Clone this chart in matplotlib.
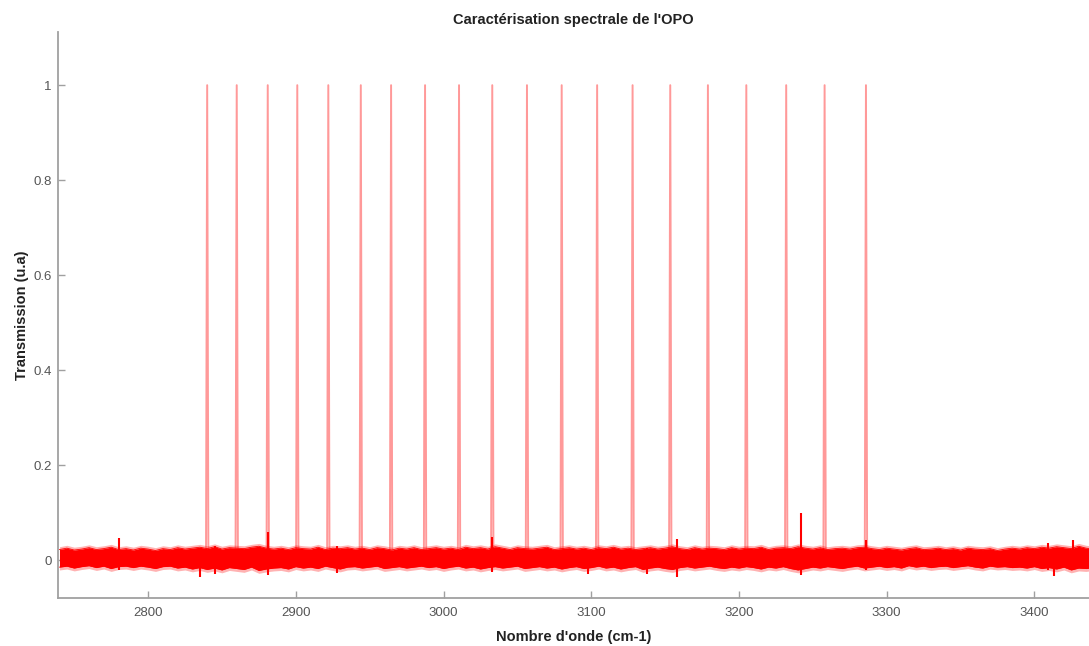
import numpy as np
import matplotlib.pyplot as plt

plt.rcParams['font.family'] = ['Liberation Sans', 'DejaVu Sans']

# positions des pics de transmission (cm-1)
peak_centers = [2840, 2860, 2881, 2901, 2922, 2944, 2964.5, 2987.5, 3010.5, 3033,
                3056.5, 3080, 3104, 3128, 3153.5, 3179, 3205, 3232, 3258, 3286]
peak_heights = [1.0] * len(peak_centers)
# forme d'un pic (ecart en cm-1, fraction de la hauteur)
peak_dx = [-0.8, 0.0, 0.8]
peak_frac = [0.0, 1.0, 0.0]

# enveloppe du bruit de fond, tous les 5 cm-1 (x 1e-3)
noise_x = list(range(2740, 3445, 5))
noise_up = [22, 25, 21, 23, 26, 22, 24, 27, 22, 24,
            21, 25, 23, 20, 24, 22, 26, 23, 25, 27,
            24, 28, 23, 26, 25, 24, 27, 29, 25, 23,
            25, 22, 26, 24, 23, 27, 22, 25, 24, 26,
            23, 25, 22, 26, 24, 21, 25, 23, 26, 22,
            24, 26, 23, 25, 22, 27, 24, 26, 23, 28,
            25, 22, 26, 24, 23, 25, 27, 22, 24, 26,
            23, 25, 22, 26, 24, 27, 23, 25, 22, 24,
            26, 23, 25, 28, 24, 22, 26, 23, 25, 24,
            22, 26, 23, 25, 24, 27, 22, 25, 26, 24,
            28, 25, 23, 26, 22, 24, 25, 23, 26, 27,
            24, 22, 25, 23, 21, 24, 26, 22, 23, 25,
            22, 24, 21, 25, 23, 22, 24, 20, 23, 25,
            23, 26, 24, 27, 25, 28, 26, 24, 29, 25,
            23]
noise_low = [15, 13, 17, 14, 12, 16, 13, 18, 14, 13,
             16, 13, 15, 18, 14, 13, 17, 15, 19, 16,
             20, 17, 21, 16, 18, 20, 15, 22, 19, 17,
             16, 19, 14, 17, 15, 18, 13, 16, 19, 15,
             14, 17, 15, 13, 18, 16, 14, 17, 15, 13,
             16, 14, 18, 15, 13, 17, 15, 19, 16, 14,
             17, 15, 13, 18, 16, 14, 17, 15, 19, 16,
             14, 18, 16, 13, 17, 15, 19, 16, 14, 20,
             17, 15, 18, 20, 16, 14, 17, 15, 13, 16,
             18, 15, 17, 14, 16, 19, 15, 17, 14, 18,
             21, 18, 15, 17, 14, 16, 18, 15, 13, 17,
             15, 13, 16, 14, 17, 12, 15, 13, 16, 14,
             13, 16, 14, 12, 15, 17, 13, 15, 14, 16,
             15, 17, 14, 18, 16, 19, 15, 21, 17, 18,
             16]

# pointes isolees du bruit
spike_x = [2780, 2835, 2845, 2881, 2928, 3033, 3098, 3138, 3158, 3242, 3286, 3409, 3413, 3426]
spike_top = [0.046, 0.02, 0.03, 0.060, 0.03, 0.048, 0.02, 0.025, 0.045, 0.099, 0.042, 0.036, 0.02, 0.042]
spike_bot = [-0.02, -0.035, -0.03, -0.032, -0.028, -0.025, -0.03, -0.03, -0.036, -0.032, -0.02, -0.02, -0.034, -0.02]

fig = plt.figure(figsize=(10.89, 6.46), dpi=100)
ax = fig.add_axes([58/1089, 1-598/646, 1-58/1089, (598-32)/646])

# pics
for c, h in zip(peak_centers, peak_heights):
    ax.plot([c + d for d in peak_dx], [h * f for f in peak_frac],
            color='#ff8080', lw=1.4, alpha=0.8, zorder=1)

# bruit : coeur plein et halo flou
up = np.array(noise_up) / 1000
lo = -np.array(noise_low) / 1000
ax.fill_between(noise_x, lo - 0.006, up + 0.006, color='red', alpha=0.3, lw=0, zorder=2)
ax.fill_between(noise_x, lo, up, color='red', lw=0, zorder=2)
ax.plot(noise_x, up, color='red', lw=0.6, zorder=2)
ax.plot(noise_x, lo, color='red', lw=0.6, zorder=2)
ax.vlines(spike_x, spike_bot, spike_top, color='red', lw=1.5, zorder=3)

ax.set_xlim(2739, 3437)
ax.set_ylim(-0.08, 1.112)
ax.set_xticks([2800, 2900, 3000, 3100, 3200, 3300, 3400])
ax.set_yticks([0, 0.2, 0.4, 0.6, 0.8, 1])
ax.set_yticklabels(['0', '0.2', '0.4', '0.6', '0.8', '1'])

for s in ['top', 'right']:
    ax.spines[s].set_visible(False)
for s in ['left', 'bottom']:
    ax.spines[s].set_color('#a0a0a0')
    ax.spines[s].set_linewidth(1.3)
ax.tick_params(direction='in', length=5, width=1, color='#a0a0a0',
               labelcolor='#555555', labelsize=9.5)
ax.tick_params(axis='x', pad=6.5)
ax.tick_params(axis='y', pad=4.5)

ax.set_title("Caractérisation spectrale de l'OPO", fontsize=10.5, fontweight='bold',
             color='#222222', pad=6)
ax.set_xlabel("Nombre d'onde (cm-1)", fontsize=10.5, fontweight='bold', color='#222222', labelpad=8)
ax.set_ylabel("Transmission (u.a)", fontsize=10.5, fontweight='bold', color='#222222', labelpad=3)

fig.savefig('out.png', dpi=100)
